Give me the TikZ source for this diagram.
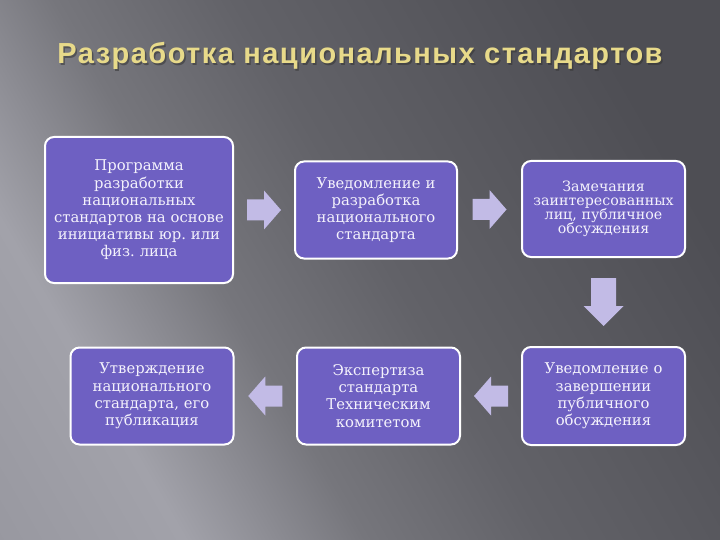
\documentclass[tikz,border=0pt]{standalone}
\usepackage{fontspec}
\setmainfont{DejaVu Serif}
\newfontfamily\titlefont[LetterSpace=5]{Liberation Sans}
\usetikzlibrary{calc}
\frenchspacing
\definecolor{boxfill}{HTML}{6E60C2}
\definecolor{arrowcol}{HTML}{C2BBE6}
\definecolor{titlecol}{HTML}{E8DA8A}
\definecolor{boxtext}{HTML}{F4F2FC}
\definecolor{bgA}{HTML}{8C8C94}
\definecolor{bgB}{HTML}{A2A2AA}
\definecolor{bgC}{HTML}{76767C}
\definecolor{bgD}{HTML}{626268}
\definecolor{bgE}{HTML}{4E4E54}
\pgfdeclarehorizontalshading{bgshade}{100bp}{color(0bp)=(bgA); color(28bp)=(bgB); color(40bp)=(bgC); color(52bp)=(bgD); color(75bp)=(bgE); color(100bp)=(bgE)}
\tikzset{
  stagebox/.style={draw=white, line width=2pt, fill=boxfill, rounded corners=9pt,
    text=boxtext, align=center, inner sep=3pt, font=\frenchspacing\fontsize{14.8}{17.2}\selectfont},
  pics/harrow/.style={code={
    \fill[arrowcol] (-17,-10.5) -- (0,-10.5) -- (0,-19.5) -- (17,0) -- (0,19.5) -- (0,10.5) -- (-17,10.5) -- cycle;}},
  pics/varrow/.style={code={
    \fill[arrowcol] (-24,-12.5) -- (4,-12.5) -- (4,-20) -- (24,0) -- (4,20) -- (4,12.5) -- (-24,12.5) -- cycle;}}
}
\begin{document}
\begin{tikzpicture}[x=1pt,y=-1pt]
\useasboundingbox (0,0) rectangle (720,540);
% background
\shade[shading=bgshade, shading angle=30] (0,0) rectangle (720,540);
% title
\node[text=black!80, opacity=0.55, font=\titlefont\bfseries\fontsize{29}{32}\selectfont] (titleshadow) at (361.5,57.5) {Разработка национальных стандартов};
\node[text=titlecol, font=\titlefont\bfseries\fontsize{29}{32}\selectfont] (title) at (360,56) {Разработка национальных стандартов};
% boxes
\node[stagebox, minimum width=188pt, minimum height=146pt, text width=182pt] (b1) at (139,210)
  {Программа\\разработки\\национальных\\стандартов на основе\\инициативы юр. или\\физ. лица};
\node[stagebox, minimum width=162pt, minimum height=97pt, text width=156pt] (b2) at (376,210)
  {Уведомление и\\разработка\\национального\\стандарта};
\node[stagebox, minimum width=163pt, minimum height=96pt, text width=157pt, font=\frenchspacing\fontsize{14.2}{14.2}\selectfont] (b3) at (603.5,209)
  {Замечания\\заинтересованных\\лиц, публичное\\обсуждения};
\node[stagebox, minimum width=163pt, minimum height=97pt, text width=157pt] (b4) at (152,396)
  {Утверждение\\национального\\стандарта, его\\публикация};
\node[stagebox, minimum width=163pt, minimum height=97pt, text width=157pt] (b5) at (378.5,396)
  {Экспертиза\\стандарта\\Техническим\\комитетом};
\node[stagebox, minimum width=163pt, minimum height=98pt, text width=157pt] (b6) at (603.5,396)
  {Уведомление о\\завершении\\публичного\\обсуждения};
% block arrows
\coordinate (a12) at ($(b1.east)!0.5!(b2.west)$);
\coordinate (a23) at ($(b2.east)!0.5!(b3.west)$);
\coordinate (a36) at ($(b3.south)!0.5!(b6.north)$);
\coordinate (a65) at ($(b6.west)!0.5!(b5.east)$);
\coordinate (a54) at ($(b5.west)!0.5!(b4.east)$);
\pic at (a12) {harrow};
\pic at (a23) {harrow};
\pic[rotate=-90] at (a36) {varrow};
\pic[rotate=180] at (a65) {harrow};
\pic[rotate=180] at (a54) {harrow};
\end{tikzpicture}
\end{document}
